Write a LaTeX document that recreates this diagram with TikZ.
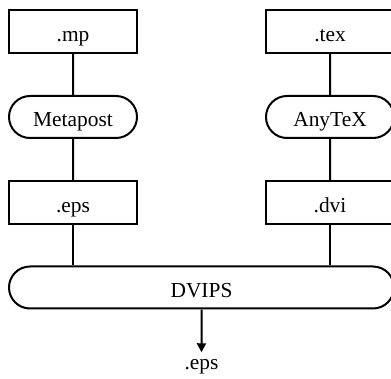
\documentclass[tikz,border=0pt]{standalone}
\usepackage{fontspec}
\setmainfont{Liberation Serif}
\usetikzlibrary{shapes.misc,arrows.meta}

\tikzset{
  filebox/.style={draw, rectangle, minimum width=64pt, minimum height=21.5pt, inner sep=0pt,
    text height=9.7pt, text depth=0pt},
  progbox/.style={draw, rounded rectangle, minimum width=64pt, minimum height=21pt, inner sep=0pt,
    text height=9.7pt, text depth=0pt},
}

\begin{document}
\begin{tikzpicture}[x=0.5pt,y=-0.5pt,line width=1pt,font=\fontsize{10.7}{12}\selectfont]
\useasboundingbox (0,0) rectangle (391,379);
\node[filebox] (mp) at (73,31.5) {.mp};
\node[progbox] (metapost) at (73,117) {Metapost};
\node[filebox] (eps) at (73,202.5) {.eps};
\node[filebox] (tex) at (330,31.5) {.tex};
\node[progbox] (anytex) at (330,117) {AnyTeX};
\node[filebox] (dvi) at (330,202.5) {.dvi};
\node[progbox, minimum width=192.5pt] (dvips) at (201.5,287.5) {DVIPS};
\node[anchor=base] (out) at (201.5,370) {.eps};
\path[draw,-] (mp) -- (metapost);
\path[draw,-] (metapost) -- (eps);
\path[draw,-] (tex) -- (anytex);
\path[draw,-] (anytex) -- (dvi);
\path[draw,-] (eps.south) -- (eps.south |- dvips.north);
\path[draw,-] (dvi.south) -- (dvi.south |- dvips.north);
\path[draw,-{Triangle[length=4.5pt,width=4.5pt]}] (dvips) -- (out);
\end{tikzpicture}
\end{document}
